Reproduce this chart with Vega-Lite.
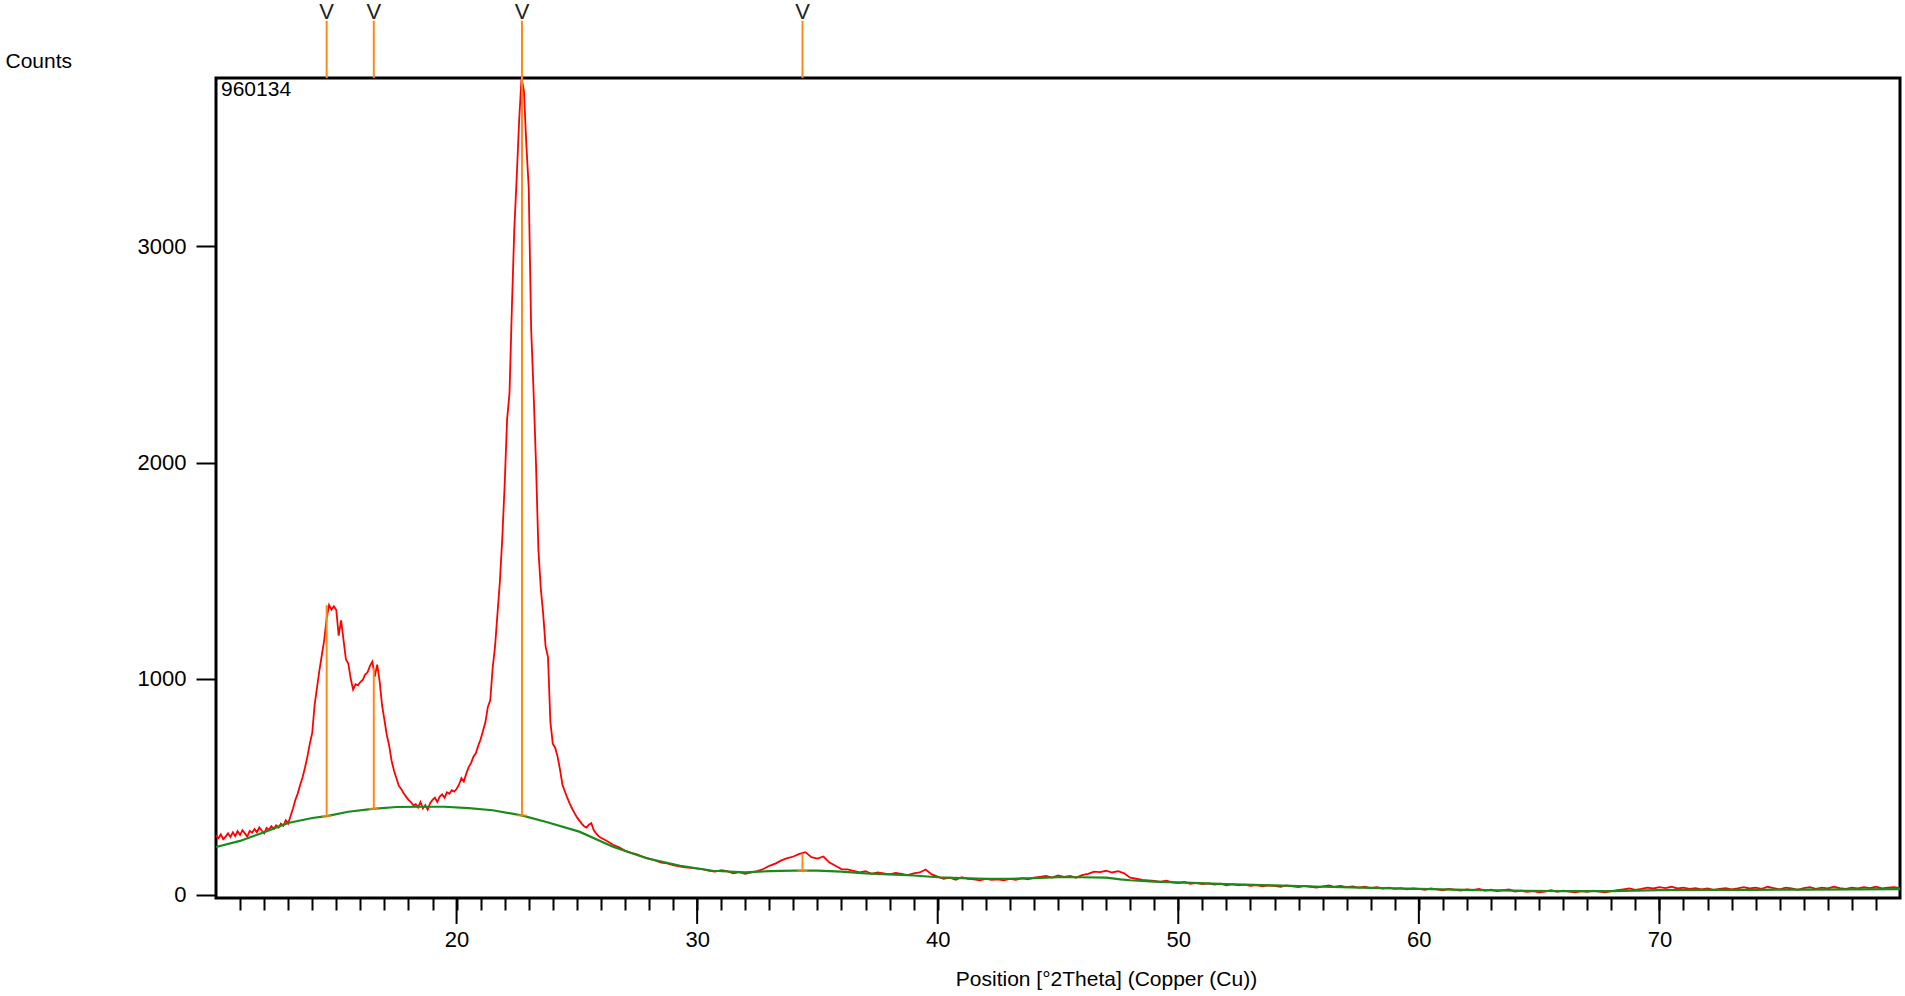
{
  "$schema": "https://vega.github.io/schema/vega-lite/v6.json",
  "width": 1684,
  "height": 820,
  "autosize": {"type": "none"},
  "padding": {"left": 216, "top": 78, "right": 5, "bottom": 98},
  "background": "white",
  "config": {"view": {"stroke": "black", "strokeWidth": 3}, "font": "Liberation Sans"},
  "datasets": {
    "scan": [
      {"t":10.0,"c":275},{"t":10.1,"c":262},{"t":10.2,"c":280},{"t":10.3,"c":258},{"t":10.4,"c":270},{"t":10.5,"c":285},{"t":10.6,"c":268},{"t":10.7,"c":290},{"t":10.8,"c":272},{"t":10.9,"c":295},
      {"t":11.0,"c":278},{"t":11.1,"c":300},{"t":11.2,"c":285},{"t":11.3,"c":270},{"t":11.4,"c":296},{"t":11.5,"c":288},{"t":11.6,"c":305},{"t":11.7,"c":290},{"t":11.8,"c":312},{"t":11.9,"c":298},
      {"t":12.0,"c":285},{"t":12.1,"c":310},{"t":12.2,"c":302},{"t":12.3,"c":318},{"t":12.4,"c":305},{"t":12.5,"c":322},{"t":12.6,"c":312},{"t":12.7,"c":330},{"t":12.8,"c":320},{"t":12.9,"c":345},
      {"t":13.0,"c":330},{"t":13.1,"c":365},{"t":13.2,"c":400},{"t":13.3,"c":440},{"t":13.4,"c":470},{"t":13.5,"c":510},{"t":13.6,"c":545},{"t":13.7,"c":590},{"t":13.8,"c":640},{"t":13.9,"c":700},
      {"t":14.0,"c":750},{"t":14.1,"c":880},{"t":14.2,"c":960},{"t":14.3,"c":1040},{"t":14.4,"c":1110},{"t":14.5,"c":1180},{"t":14.6,"c":1280},{"t":14.7,"c":1341},{"t":14.8,"c":1320},{"t":14.9,"c":1335},
      {"t":15.0,"c":1318},{"t":15.1,"c":1200},{"t":15.2,"c":1270},{"t":15.3,"c":1180},{"t":15.4,"c":1090},{"t":15.5,"c":1070},{"t":15.6,"c":1000},{"t":15.7,"c":950},{"t":15.8,"c":975},{"t":15.9,"c":970},
      {"t":16.0,"c":985},{"t":16.1,"c":995},{"t":16.2,"c":1020},{"t":16.3,"c":1030},{"t":16.4,"c":1060},{"t":16.5,"c":1079},{"t":16.6,"c":1010},{"t":16.7,"c":1065},{"t":16.8,"c":990},{"t":16.9,"c":880},
      {"t":17.0,"c":810},{"t":17.1,"c":740},{"t":17.2,"c":690},{"t":17.3,"c":620},{"t":17.4,"c":575},{"t":17.5,"c":540},{"t":17.6,"c":505},{"t":17.7,"c":490},{"t":17.8,"c":470},{"t":17.9,"c":455},
      {"t":18.0,"c":440},{"t":18.1,"c":430},{"t":18.2,"c":415},{"t":18.3,"c":420},{"t":18.4,"c":405},{"t":18.5,"c":430},{"t":18.6,"c":400},{"t":18.7,"c":415},{"t":18.8,"c":395},{"t":18.9,"c":425},
      {"t":19.0,"c":440},{"t":19.1,"c":450},{"t":19.2,"c":430},{"t":19.3,"c":455},{"t":19.4,"c":465},{"t":19.5,"c":450},{"t":19.6,"c":475},{"t":19.7,"c":468},{"t":19.8,"c":485},{"t":19.9,"c":478},
      {"t":20.0,"c":490},{"t":20.1,"c":510},{"t":20.2,"c":540},{"t":20.3,"c":525},{"t":20.4,"c":560},{"t":20.5,"c":590},{"t":20.6,"c":610},{"t":20.7,"c":640},{"t":20.8,"c":655},{"t":20.9,"c":690},
      {"t":21.0,"c":720},{"t":21.1,"c":760},{"t":21.2,"c":800},{"t":21.3,"c":870},{"t":21.4,"c":900},{"t":21.5,"c":1050},{"t":21.6,"c":1150},{"t":21.7,"c":1300},{"t":21.8,"c":1450},{"t":21.9,"c":1650},
      {"t":22.0,"c":1900},{"t":22.1,"c":2200},{"t":22.2,"c":2320},{"t":22.3,"c":2720},{"t":22.4,"c":3080},{"t":22.5,"c":3320},{"t":22.6,"c":3580},{"t":22.7,"c":3779},{"t":22.8,"c":3720},{"t":22.9,"c":3470},
      {"t":23.0,"c":3270},{"t":23.1,"c":2620},{"t":23.2,"c":2330},{"t":23.3,"c":2000},{"t":23.4,"c":1600},{"t":23.5,"c":1420},{"t":23.6,"c":1300},{"t":23.7,"c":1150},{"t":23.8,"c":1100},{"t":23.9,"c":800},
      {"t":24.0,"c":700},{"t":24.1,"c":680},{"t":24.2,"c":640},{"t":24.3,"c":580},{"t":24.4,"c":510},{"t":24.5,"c":480},{"t":24.6,"c":450},{"t":24.7,"c":424},{"t":24.8,"c":400},{"t":24.9,"c":380},
      {"t":25.0,"c":360},{"t":25.1,"c":345},{"t":25.2,"c":330},{"t":25.3,"c":318},{"t":25.4,"c":312},{"t":25.5,"c":325},{"t":25.6,"c":332},{"t":25.7,"c":300},{"t":25.8,"c":285},{"t":25.9,"c":272},
      {"t":26.0,"c":265},{"t":26.25,"c":250},{"t":26.5,"c":232},{"t":26.75,"c":220},{"t":27.0,"c":205},{"t":27.25,"c":195},{"t":27.5,"c":188},{"t":27.75,"c":176},
      {"t":28.0,"c":168},{"t":28.25,"c":160},{"t":28.5,"c":150},{"t":28.75,"c":146},{"t":29.0,"c":138},{"t":29.25,"c":132},{"t":29.5,"c":128},{"t":29.75,"c":125},
      {"t":30.0,"c":122},{"t":30.25,"c":118},{"t":30.5,"c":112},{"t":30.75,"c":108},{"t":31.0,"c":115},{"t":31.25,"c":110},{"t":31.5,"c":100},{"t":31.75,"c":106},
      {"t":32.0,"c":98},{"t":32.25,"c":104},{"t":32.5,"c":110},{"t":32.75,"c":120},{"t":33.0,"c":135},{"t":33.25,"c":145},{"t":33.5,"c":160},{"t":33.75,"c":170},
      {"t":34.0,"c":178},{"t":34.25,"c":190},{"t":34.5,"c":198},{"t":34.75,"c":175},{"t":35.0,"c":168},{"t":35.25,"c":178},{"t":35.5,"c":150},{"t":35.75,"c":135},
      {"t":36.0,"c":120},{"t":36.25,"c":118},{"t":36.5,"c":112},{"t":36.75,"c":105},{"t":37.0,"c":110},{"t":37.25,"c":98},{"t":37.5,"c":104},{"t":37.75,"c":100},
      {"t":38.0,"c":95},{"t":38.25,"c":102},{"t":38.5,"c":98},{"t":38.75,"c":92},{"t":39.0,"c":100},{"t":39.25,"c":104},{"t":39.5,"c":118},{"t":39.75,"c":95},
      {"t":40.0,"c":85},{"t":40.25,"c":75},{"t":40.5,"c":80},{"t":40.75,"c":70},{"t":41.0,"c":82},{"t":41.25,"c":75},{"t":41.5,"c":72},{"t":41.75,"c":68},
      {"t":42.0,"c":75},{"t":42.25,"c":70},{"t":42.5,"c":72},{"t":42.75,"c":68},{"t":43.0,"c":74},{"t":43.25,"c":70},{"t":43.5,"c":78},{"t":43.75,"c":72},
      {"t":44.0,"c":80},{"t":44.25,"c":84},{"t":44.5,"c":88},{"t":44.75,"c":80},{"t":45.0,"c":90},{"t":45.25,"c":84},{"t":45.5,"c":88},{"t":45.75,"c":80},
      {"t":46.0,"c":92},{"t":46.25,"c":98},{"t":46.5,"c":108},{"t":46.75,"c":106},{"t":47.0,"c":112},{"t":47.25,"c":104},{"t":47.5,"c":110},{"t":47.75,"c":100},
      {"t":48.0,"c":80},{"t":48.25,"c":75},{"t":48.5,"c":70},{"t":48.75,"c":68},{"t":49.0,"c":65},{"t":49.25,"c":60},{"t":49.5,"c":66},{"t":49.75,"c":58},
      {"t":50.0,"c":55},{"t":50.25,"c":60},{"t":50.5,"c":52},{"t":50.75,"c":56},{"t":51.0,"c":50},{"t":51.25,"c":54},{"t":51.5,"c":48},{"t":51.75,"c":52},
      {"t":52.0,"c":45},{"t":52.25,"c":50},{"t":52.5,"c":44},{"t":52.75,"c":48},{"t":53.0,"c":42},{"t":53.25,"c":46},{"t":53.5,"c":40},{"t":53.75,"c":44},
      {"t":54.0,"c":42},{"t":54.25,"c":38},{"t":54.5,"c":44},{"t":54.75,"c":40},{"t":55.0,"c":36},{"t":55.25,"c":42},{"t":55.5,"c":38},{"t":55.75,"c":34},
      {"t":56.0,"c":40},{"t":56.25,"c":44},{"t":56.5,"c":38},{"t":56.75,"c":42},{"t":57.0,"c":36},{"t":57.25,"c":40},{"t":57.5,"c":34},{"t":57.75,"c":38},
      {"t":58.0,"c":32},{"t":58.25,"c":36},{"t":58.5,"c":30},{"t":58.75,"c":34},{"t":59.0,"c":28},{"t":59.25,"c":32},{"t":59.5,"c":26},{"t":59.75,"c":30},
      {"t":60.0,"c":28},{"t":60.25,"c":24},{"t":60.5,"c":30},{"t":60.75,"c":26},{"t":61.0,"c":22},{"t":61.25,"c":28},{"t":61.5,"c":24},{"t":61.75,"c":20},
      {"t":62.0,"c":26},{"t":62.25,"c":22},{"t":62.5,"c":28},{"t":62.75,"c":20},{"t":63.0,"c":24},{"t":63.25,"c":18},{"t":63.5,"c":22},{"t":63.75,"c":26},
      {"t":64.0,"c":16},{"t":64.25,"c":20},{"t":64.5,"c":14},{"t":64.75,"c":18},{"t":65.0,"c":12},{"t":65.25,"c":16},{"t":65.5,"c":22},{"t":65.75,"c":14},
      {"t":66.0,"c":20},{"t":66.25,"c":16},{"t":66.5,"c":12},{"t":66.75,"c":18},{"t":67.0,"c":14},{"t":67.25,"c":20},{"t":67.5,"c":15},{"t":67.75,"c":12},
      {"t":68.0,"c":18},{"t":68.25,"c":22},{"t":68.5,"c":26},{"t":68.75,"c":30},{"t":69.0,"c":24},{"t":69.25,"c":28},{"t":69.5,"c":34},{"t":69.75,"c":30},
      {"t":70.0,"c":36},{"t":70.25,"c":32},{"t":70.5,"c":38},{"t":70.75,"c":30},{"t":71.0,"c":34},{"t":71.25,"c":28},{"t":71.5,"c":32},{"t":71.75,"c":26},
      {"t":72.0,"c":30},{"t":72.25,"c":24},{"t":72.5,"c":28},{"t":72.75,"c":32},{"t":73.0,"c":26},{"t":73.25,"c":30},{"t":73.5,"c":36},{"t":73.75,"c":30},
      {"t":74.0,"c":34},{"t":74.25,"c":28},{"t":74.5,"c":38},{"t":74.75,"c":32},{"t":75.0,"c":26},{"t":75.25,"c":34},{"t":75.5,"c":30},{"t":75.75,"c":24},
      {"t":76.0,"c":32},{"t":76.25,"c":36},{"t":76.5,"c":28},{"t":76.75,"c":34},{"t":77.0,"c":30},{"t":77.25,"c":38},{"t":77.5,"c":32},{"t":77.75,"c":28},
      {"t":78.0,"c":34},{"t":78.25,"c":30},{"t":78.5,"c":36},{"t":78.75,"c":32},{"t":79.0,"c":38},{"t":79.25,"c":30},{"t":79.5,"c":34},{"t":79.75,"c":36},
      {"t":80.0,"c":32}
    ],
    "background": [
      {"t":10,"c":222},{"t":11,"c":250},{"t":12,"c":290},{"t":13,"c":333},{"t":14,"c":356},{"t":14.6,"c":365},{"t":15.5,"c":385},{"t":16.5,"c":398},
      {"t":17.5,"c":407},{"t":18.5,"c":408},{"t":19.5,"c":408},{"t":20.5,"c":402},{"t":21.5,"c":392},{"t":22.7,"c":368},{"t":23.7,"c":339},{"t":25.1,"c":293},
      {"t":26.5,"c":223},{"t":27.9,"c":170},{"t":29.3,"c":135},{"t":30.65,"c":112},{"t":32,"c":105},{"t":33,"c":110},{"t":34,"c":113},{"t":35,"c":113},
      {"t":36,"c":108},{"t":37,"c":100},{"t":38,"c":95},{"t":39,"c":90},{"t":40,"c":82},{"t":41,"c":78},{"t":42,"c":75},{"t":43,"c":75},{"t":44,"c":78},
      {"t":45,"c":82},{"t":46,"c":82},{"t":47,"c":80},{"t":47.6,"c":72},{"t":48,"c":68},{"t":49,"c":62},{"t":50,"c":58},{"t":52,"c":50},{"t":54,"c":44},
      {"t":56,"c":38},{"t":58,"c":33},{"t":60,"c":28},{"t":62,"c":24},{"t":64,"c":20},{"t":66,"c":18},{"t":68,"c":18},{"t":70,"c":22},{"t":72,"c":24},
      {"t":74,"c":24},{"t":76,"c":25},{"t":78,"c":26},{"t":80,"c":27}
    ],
    "peaks": [
      {"t":14.6,"c":365,"c2":1341},
      {"t":16.56,"c":398,"c2":1050},
      {"t":22.72,"c":368,"c2":3779},
      {"t":34.38,"c":112,"c2":192}
    ],
    "majors": [{"t":20},{"t":30},{"t":40},{"t":50},{"t":60},{"t":70}],
    "sample": [{"label":"960134"}]
  },
  "layer": [
    {
      "data": {"name": "scan"},
      "mark": {"type": "line", "color": "#ff0000", "strokeWidth": 1.8, "interpolate": "linear"},
      "encoding": {
        "x": {"field": "t", "type": "quantitative",
          "scale": {"domain": [10, 80], "nice": false, "zero": false},
          "axis": {
            "title": "Position [°2Theta] (Copper (Cu))",
            "values": [11,12,13,14,15,16,17,18,19,20,21,22,23,24,25,26,27,28,29,30,31,32,33,34,35,36,37,38,39,40,41,42,43,44,45,46,47,48,49,50,51,52,53,54,55,56,57,58,59,60,61,62,63,64,65,66,67,68,69,70,71,72,73,74,75,76,77,78,79],
            "tickCount": 200,
            "format": "d",
            "labelExpr": "datum.value % 10 === 0 ? datum.label : ''",
            "tickSize": 12,
            "tickWidth": 2, "tickColor": "black", "domain": false, "grid": false,
            "labelFontSize": 22, "labelColor": "black", "labelPadding": 19, "labelFlush": false, "labelOverlap": false,
            "titleFontSize": 21, "titleFontWeight": "normal", "titleColor": "black",
            "titleX": 890, "titleY": 81, "titleBaseline": "middle", "titleAlign": "center"
          }
        },
        "y": {"field": "c", "type": "quantitative",
          "scale": {"domain": [-14, 3779], "nice": false, "zero": false},
          "axis": {
            "title": "Counts", "values": [0, 1000, 2000, 3000], "format": "d",
            "tickSize": 20, "tickWidth": 2, "tickColor": "black", "domain": false, "grid": false,
            "labelFontSize": 22, "labelColor": "black", "labelPadding": 10,
            "titleFontSize": 21, "titleFontWeight": "normal", "titleColor": "black", "titleAngle": 0,
            "titleX": -211, "titleY": -17, "titleAlign": "left", "titleBaseline": "middle"
          }
        }
      }
    },
    {
      "data": {"name": "background"},
      "mark": {"type": "line", "color": "#1a8a1a", "strokeWidth": 2.2},
      "encoding": {
        "x": {"field": "t", "type": "quantitative"},
        "y": {"field": "c", "type": "quantitative"}
      }
    },
    {
      "data": {"name": "peaks"},
      "mark": {"type": "rule", "color": "#ff8a1c", "strokeWidth": 2},
      "encoding": {
        "x": {"field": "t", "type": "quantitative"},
        "y": {"field": "c", "type": "quantitative"},
        "y2": {"field": "c2"}
      }
    },
    {
      "data": {"name": "peaks"},
      "mark": {"type": "tick", "orient": "horizontal", "color": "#ff8a1c", "size": 10, "thickness": 2},
      "encoding": {
        "x": {"field": "t", "type": "quantitative"},
        "y": {"field": "c", "type": "quantitative"}
      }
    },
    {
      "data": {"name": "peaks"},
      "mark": {"type": "rule", "color": "#ff8a1c", "strokeWidth": 2, "clip": false},
      "encoding": {
        "x": {"field": "t", "type": "quantitative"},
        "y": {"datum": 3779, "type": "quantitative"},
        "y2": {"datum": 4044}
      }
    },
    {
      "data": {"name": "peaks"},
      "mark": {"type": "text", "text": "V", "color": "#222222", "fontSize": 22, "baseline": "bottom", "align": "center", "dy": 3, "clip": false},
      "encoding": {
        "x": {"field": "t", "type": "quantitative"},
        "y": {"datum": 4044, "type": "quantitative"}
      }
    },
    {
      "data": {"name": "majors"},
      "mark": {"type": "rule", "color": "black", "strokeWidth": 2, "clip": false},
      "encoding": {
        "x": {"field": "t", "type": "quantitative"},
        "y": {"datum": -14, "type": "quantitative"},
        "y2": {"datum": -134}
      }
    },
    {
      "data": {"name": "sample"},
      "mark": {"type": "text", "color": "black", "fontSize": 21, "align": "left", "baseline": "middle", "dx": 5, "dy": 12},
      "encoding": {
        "text": {"field": "label"},
        "x": {"datum": 10, "type": "quantitative"},
        "y": {"datum": 3779, "type": "quantitative"}
      }
    }
  ]
}
